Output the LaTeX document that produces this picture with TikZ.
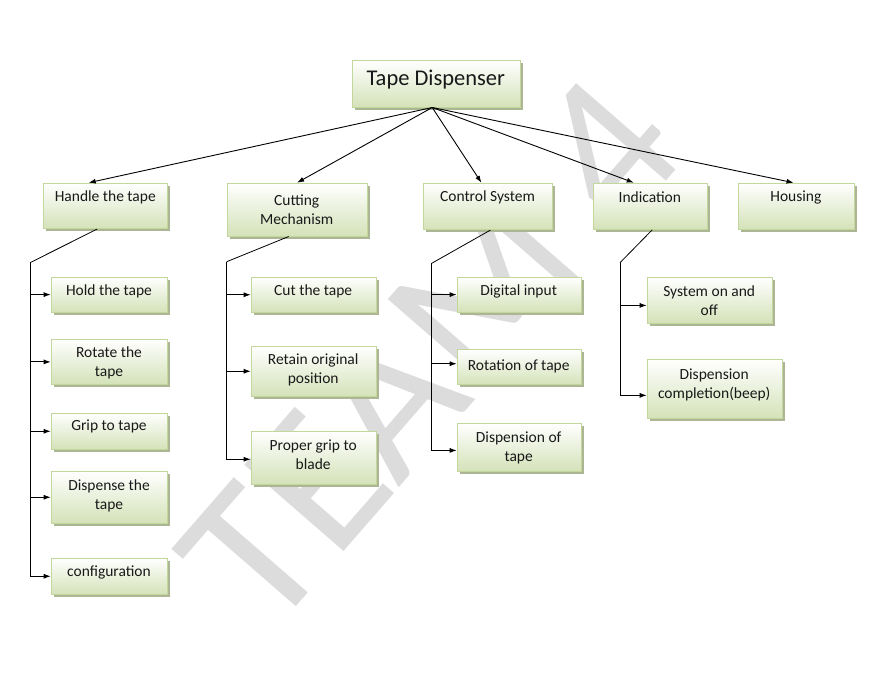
\documentclass[tikz,border=0pt]{standalone}
\usepackage{fontspec}
\setmainfont{Carlito}
\usetikzlibrary{arrows.meta,shadows,calc}
\definecolor{bxborder}{RGB}{195,214,155}
\definecolor{bxgreen}{RGB}{212,226,184}
\definecolor{bxshadow}{RGB}{172,182,148}
\definecolor{wmgray}{RGB}{220,220,220}
\newcommand\mybox[7]{%
  \node[box, minimum width={(#4-#2)*1pt}, minimum height={(#5-#3)*1pt}, anchor=north west] (#1) at (#2,#3) {};
  \node[lbl] (#1-t) at ({(#2+#4)/2},#6) {#7};}
\begin{document}
\begin{tikzpicture}[x=1pt,y=-1pt,
  box/.style={draw=bxborder, line width=0.8pt, top color=white, bottom color=bxgreen,
    drop shadow={shadow xshift=2.5pt, shadow yshift=-2.5pt, fill=bxshadow, opacity=1}, inner sep=0pt},
  lbl/.style={font=\fontsize{15.5}{19}\selectfont, align=center, inner sep=0pt, text=black!90},
  arr/.style={-{Latex[length=7pt,width=5pt]}, line width=0.9pt},
  ln/.style={line width=0.8pt}]
\useasboundingbox[fill=white] (0,0) rectangle (882,681);
% watermark
\node[text=wmgray, rotate=49, inner sep=0pt, font=\fontsize{205}{205}\selectfont] (wm) at (430,352) {TEAM 4};
% title
\node[box, minimum width=168.3pt, minimum height=46.7pt, anchor=north west] (title) at (351.7,60) {};
\node[lbl, font=\fontsize{22.5}{26}\selectfont] (title-t) at (435.8,80) {Tape Dispenser};
% level 1
\mybox{ht}{43.3}{182.7}{167.3}{228.3}{197.3}{Handle the tape}
\mybox{cm}{226.7}{182.7}{366.7}{235.7}{209.5}{Cutting\\Mechanism}
\mybox{cs}{423.3}{182.7}{551.7}{229.3}{197.3}{Control System}
\mybox{in}{593}{182.7}{706.7}{229}{197.3}{Indication}
\mybox{ho}{738}{182.7}{853.7}{229}{197.3}{Housing}
% handle children
\mybox{ha}{50.7}{276.7}{167.3}{311.7}{291.7}{Hold the tape}
\mybox{hb}{50.7}{339}{167.3}{384}{362.8}{Rotate the\\tape}
\mybox{hc}{50.7}{412.7}{167.3}{449}{426.7}{Grip to tape}
\mybox{hd}{50.7}{470.7}{167.3}{523}{496.2}{Dispense the\\tape}
\mybox{he}{50.7}{557.7}{167.3}{594}{572.7}{configuration}
% cutting children
\mybox{ca}{250.7}{276.7}{375.7}{312}{291.7}{Cut the tape}
\mybox{cb}{250.7}{345.7}{375.7}{396}{369.5}{Retain original\\position}
\mybox{cc}{250.7}{430.7}{375.7}{484}{455.2}{Proper grip to\\blade}
% control children
\mybox{sa}{456.7}{276.7}{580.7}{311.7}{291.7}{Digital input}
\mybox{sb}{456.7}{349.3}{580.7}{384.3}{366}{Rotation of tape}
\mybox{sc}{456.7}{423.3}{580.7}{470.7}{447.8}{Dispension of\\tape}
% indication children
\mybox{ia}{646.7}{276.7}{771.7}{322.7}{300.8}{System on and\\off}
\mybox{ib}{646.7}{359}{781.7}{418.3}{385.3}{Dispension\\completion(beep)}
% top connectors
\coordinate (o) at ([xshift=-4pt]title.south);
\draw[arr] (o) -- ([xshift=-17pt]ht.north);
\draw[arr] (o) -- (cm.north);
\draw[arr] (o) -- ([xshift=-6.5pt]cs.north);
\draw[arr] (o) -- ([xshift=-16.5pt]in.north);
\draw[arr] (o) -- ([xshift=-2.7pt]ho.north);
% branch corners
\coordinate (hk) at (30,262.7);
\coordinate (ck) at (226.7,261.7);
\coordinate (sk) at (431.7,263.3);
\coordinate (ik) at (620,262.7);
% handle branch
\draw[ln] ([xshift=-8.6pt]ht.south) -- (hk);
\draw[arr] (hk) |- (he.west);
\draw[arr] (hk |- ha.west) -- (ha.west);
\draw[arr] (hk |- hb.west) -- (hb.west);
\draw[arr] (hk |- hc.west) -- (hc.west);
\draw[arr] (hk |- hd.west) -- (hd.west);
% cutting branch
\draw[ln] ([xshift=-8.4pt]cm.south) -- (ck);
\draw[arr] (ck) |- ([yshift=-1.5pt]cc.west);
\draw[arr] (ck |- ca.west) -- (ca.west);
\draw[arr] (ck |- cb.west) -- (cb.west);
% control branch
\draw[ln] ([xshift=2.5pt]cs.south) -- (sk);
\draw[arr] (sk) |- ([yshift=-3pt]sc.west);
\draw[arr] (sk |- sa.west) -- (sa.west);
\draw[arr] ([yshift=3.5pt]sk |- sb.west) -- ([yshift=3.5pt]sb.west);
% indication branch
\draw[ln] ([xshift=2pt]in.south) -- (ik);
\draw[arr] (ik) |- ([yshift=-6.3pt]ib.west);
\draw[arr] ([yshift=-5.3pt]ik |- ia.west) -- ([yshift=-5.3pt]ia.west);
\end{tikzpicture}
\end{document}
